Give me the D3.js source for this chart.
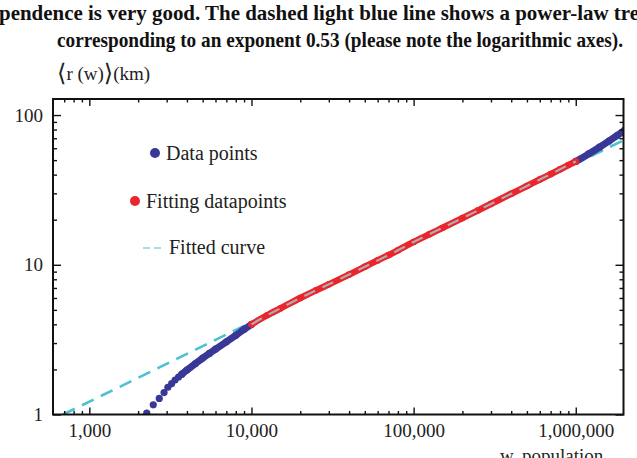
<!DOCTYPE html>
<html><head><meta charset="utf-8">
<script src="https://cdn.jsdelivr.net/npm/d3@7"></script>
<style>
html,body{margin:0;padding:0;background:#fff;overflow:hidden}
svg{display:block}
</style></head>
<body>
<svg id="c" width="637" height="458"></svg>
<script>
// ---- data ----
const titleLines = [
  "pendence is very good. The dashed light blue line shows a power-law tre",
  "corresponding to an exponent 0.53 (please note the logarithmic axes)."
];
const yAxisLabelParts = ["\u27E8", "r (w)", "\u27E9", "(km)"];
const xAxisLabel = "w, population";
const xMajorTicks = [1000, 10000, 100000, 1000000];
const xTickLabels = ["1,000", "10,000", "100,000", "1,000,000"];
const xMinorTicks = [700, 800, 900, 2000, 3000, 4000, 5000, 6000, 7000, 8000, 9000,
  20000, 30000, 40000, 50000, 60000, 70000, 80000, 90000,
  200000, 300000, 400000, 500000, 600000, 700000, 800000, 900000];
const yMajorTicks = [1, 10, 100];
const yTickLabels = ["1", "10", "100"];
const yMinorTicks = [2, 3, 4, 5, 6, 7, 8, 9, 20, 30, 40, 50, 60, 70, 80, 90];

// blue "Data points" (outside the fitting range)
const dataW = [2260, 2480, 2700, 2890, 3050, 3220, 3380, 3550, 3720, 4000, 4500, 5000, 5500, 6000, 7000, 8000, 9000, 10000,
  1000000, 1200000, 1400000, 1600000, 1800000, 2000000];
const dataR = [1.02, 1.16, 1.28, 1.40, 1.52, 1.61, 1.70, 1.78, 1.86, 1.98, 2.18, 2.38, 2.56, 2.73, 3.06, 3.38, 3.70, 4.00,
  49.0, 55.0, 61.0, 67.0, 73.0, 79.0];
// red "Fitting datapoints"
const fitDataW = [10000, 12500, 15000, 20000, 25000, 30000, 40000, 50000, 60000, 70000, 80000, 100000,
  125000, 150000, 200000, 250000, 300000, 400000, 500000, 600000, 700000, 800000, 900000, 1000000];
const fitDataR = [4.0, 4.6, 5.1, 6.0, 6.75, 7.4, 8.6, 9.7, 10.7, 11.6, 12.5, 14.2,
  16.0, 17.6, 20.5, 23.1, 25.5, 29.8, 33.6, 37.1, 40.3, 43.4, 46.3, 49.0];
// dashed "Fitted curve" (power law, exponent 0.53)
const curveW = [689, 1970000];
const curveR = [1.0, 67.9];
const legendItems = ["Data points", "Fitting datapoints", "Fitted curve"];

// ---- drawing ----
const svg = d3.select("#c");
const L = 53, R = 623.5, T = 99, B = 414.5;
const x = d3.scaleLog().domain([597, 1970000]).range([L, R]);
const y = d3.scaleLog().domain([1, 128]).range([B, T]);
const serif = "'Liberation Serif', 'Times New Roman', serif";
const navy = "#3a3896", red = "#e8262b", cyan = "#4cc0d4";

// title
svg.append("text").attr("x", -1).attr("y", 20).attr("font-family", serif)
  .attr("font-weight", "bold").attr("font-size", 21).attr("fill", "#111")
  .attr("textLength", 640).attr("lengthAdjust", "spacingAndGlyphs").text(titleLines[0]);
svg.append("text").attr("x", 57).attr("y", 47).attr("font-family", serif)
  .attr("font-weight", "bold").attr("font-size", 21).attr("fill", "#111")
  .attr("textLength", 566).attr("lengthAdjust", "spacingAndGlyphs").text(titleLines[1]);

// y label
const yl = svg.append("text").attr("x", 57).attr("y", 80).attr("font-family", serif)
  .attr("font-size", 19).attr("fill", "#222");
yl.append("tspan").attr("font-family", "'DejaVu Serif', serif").attr("font-size", 24).attr("dy", 1).text(yAxisLabelParts[0]);
yl.append("tspan").attr("dy", -1).text(yAxisLabelParts[1]);
yl.append("tspan").attr("font-family", "'DejaVu Serif', serif").attr("font-size", 24).attr("dy", 1).text(yAxisLabelParts[2]);
yl.append("tspan").attr("dy", -1).text(yAxisLabelParts[3]);
// x label
svg.append("text").attr("x", 500).attr("y", 462).attr("font-family", serif)
  .attr("font-size", 19).attr("fill", "#222").text(xAxisLabel);

const clip = svg.append("defs").append("clipPath").attr("id", "pc");
clip.append("rect").attr("x", L).attr("y", T).attr("width", R - L).attr("height", B - T);
const plot = svg.append("g").attr("clip-path", "url(#pc)");

const line = d3.line().x(d => x(d[0])).y(d => y(d[1])).curve(d3.curveMonotoneX);
const curve = curveW.map((w, i) => [w, curveR[i]]);
const blue = dataW.map((w, i) => [w, dataR[i]]);
const blueLow = blue.filter(d => d[0] <= 10000);
const blueHigh = blue.filter(d => d[0] >= 1000000);
const redPts = fitDataW.map((w, i) => [w, fitDataR[i]]);

// cyan dashed fitted curve (under the points)
plot.append("path").datum(curve).attr("d", d3.line().x(d => x(d[0])).y(d => y(d[1])))
  .attr("fill", "none").attr("stroke", cyan).attr("stroke-width", 2.6)
  .attr("stroke-dasharray", "13,8");

// blue points
[blueLow.filter(d => d[0] >= 3720), blueHigh].forEach(seg => {
  plot.append("path").datum(seg).attr("d", line).attr("fill", "none")
    .attr("stroke", navy).attr("stroke-width", 7).attr("stroke-linecap", "round");
});
plot.selectAll("circle.b").data(blue).join("circle").attr("class", "b")
  .attr("cx", d => x(d[0])).attr("cy", d => y(d[1])).attr("r", 3.6).attr("fill", navy);

// red points
plot.append("path").datum(redPts).attr("d", line).attr("fill", "none")
  .attr("stroke", red).attr("stroke-width", 6.5).attr("stroke-linecap", "round");
plot.selectAll("circle.r").data(redPts).join("circle").attr("class", "r")
  .attr("cx", d => x(d[0])).attr("cy", d => y(d[1])).attr("r", 3.3).attr("fill", red);

// grey dashes over the fitting range
plot.append("path").datum(redPts).attr("d", line).attr("fill", "none")
  .attr("stroke", "#b4a9b0").attr("stroke-width", 2.2).attr("stroke-dasharray", "12,8");

// axes (inward ticks on all four sides)
const fmtX = v => xTickLabels[xMajorTicks.indexOf(v)];
const fmtY = v => yTickLabels[yMajorTicks.indexOf(v)];
function styleAxis(g) {
  g.select(".domain").remove();
  g.selectAll("line").attr("stroke", "#111").attr("stroke-width", 1.4);
  g.selectAll("text").attr("font-family", serif).attr("font-size", 19).attr("fill", "#222");
}
svg.append("g").attr("transform", `translate(0,${B})`)
  .call(d3.axisBottom(x).tickValues(xMajorTicks).tickFormat(fmtX).tickSize(-7).tickPadding(9)).call(styleAxis);
svg.append("g").attr("transform", `translate(0,${B})`)
  .call(d3.axisBottom(x).tickValues(xMinorTicks).tickFormat("").tickSize(-3.5)).call(styleAxis);
svg.append("g").attr("transform", `translate(0,${T})`)
  .call(d3.axisTop(x).tickValues(xMajorTicks).tickFormat("").tickSize(-7)).call(styleAxis);
svg.append("g").attr("transform", `translate(0,${T})`)
  .call(d3.axisTop(x).tickValues(xMinorTicks).tickFormat("").tickSize(-3.5)).call(styleAxis);
svg.append("g").attr("transform", `translate(${L},0)`)
  .call(d3.axisLeft(y).tickValues(yMajorTicks).tickFormat(fmtY).tickSize(-8).tickPadding(10)).call(styleAxis);
svg.append("g").attr("transform", `translate(${L},0)`)
  .call(d3.axisLeft(y).tickValues(yMinorTicks).tickFormat("").tickSize(-4)).call(styleAxis);
svg.append("g").attr("transform", `translate(${R},0)`)
  .call(d3.axisRight(y).tickValues(yMajorTicks).tickFormat("").tickSize(-8)).call(styleAxis);
svg.append("g").attr("transform", `translate(${R},0)`)
  .call(d3.axisRight(y).tickValues(yMinorTicks).tickFormat("").tickSize(-4)).call(styleAxis);

// frame
svg.append("rect").attr("x", L).attr("y", T).attr("width", R - L).attr("height", B - T)
  .attr("fill", "none").attr("stroke", "#111").attr("stroke-width", 2);

// legend
const lg = svg.append("g").attr("font-family", serif).attr("font-size", 20).attr("fill", "#222");
lg.append("circle").attr("cx", 155).attr("cy", 153).attr("r", 5).attr("fill", navy);
lg.append("text").attr("x", 166).attr("y", 160).text(legendItems[0]);
lg.append("circle").attr("cx", 135).attr("cy", 201).attr("r", 5).attr("fill", red);
lg.append("text").attr("x", 146).attr("y", 208).text(legendItems[1]);
lg.append("line").attr("x1", 143).attr("x2", 164).attr("y1", 248).attr("y2", 248)
  .attr("stroke", "#8fd3d3").attr("stroke-width", 1.3).attr("stroke-dasharray", "7,4");
lg.append("text").attr("x", 169).attr("y", 254).text(legendItems[2]);
</script>
</body></html>
